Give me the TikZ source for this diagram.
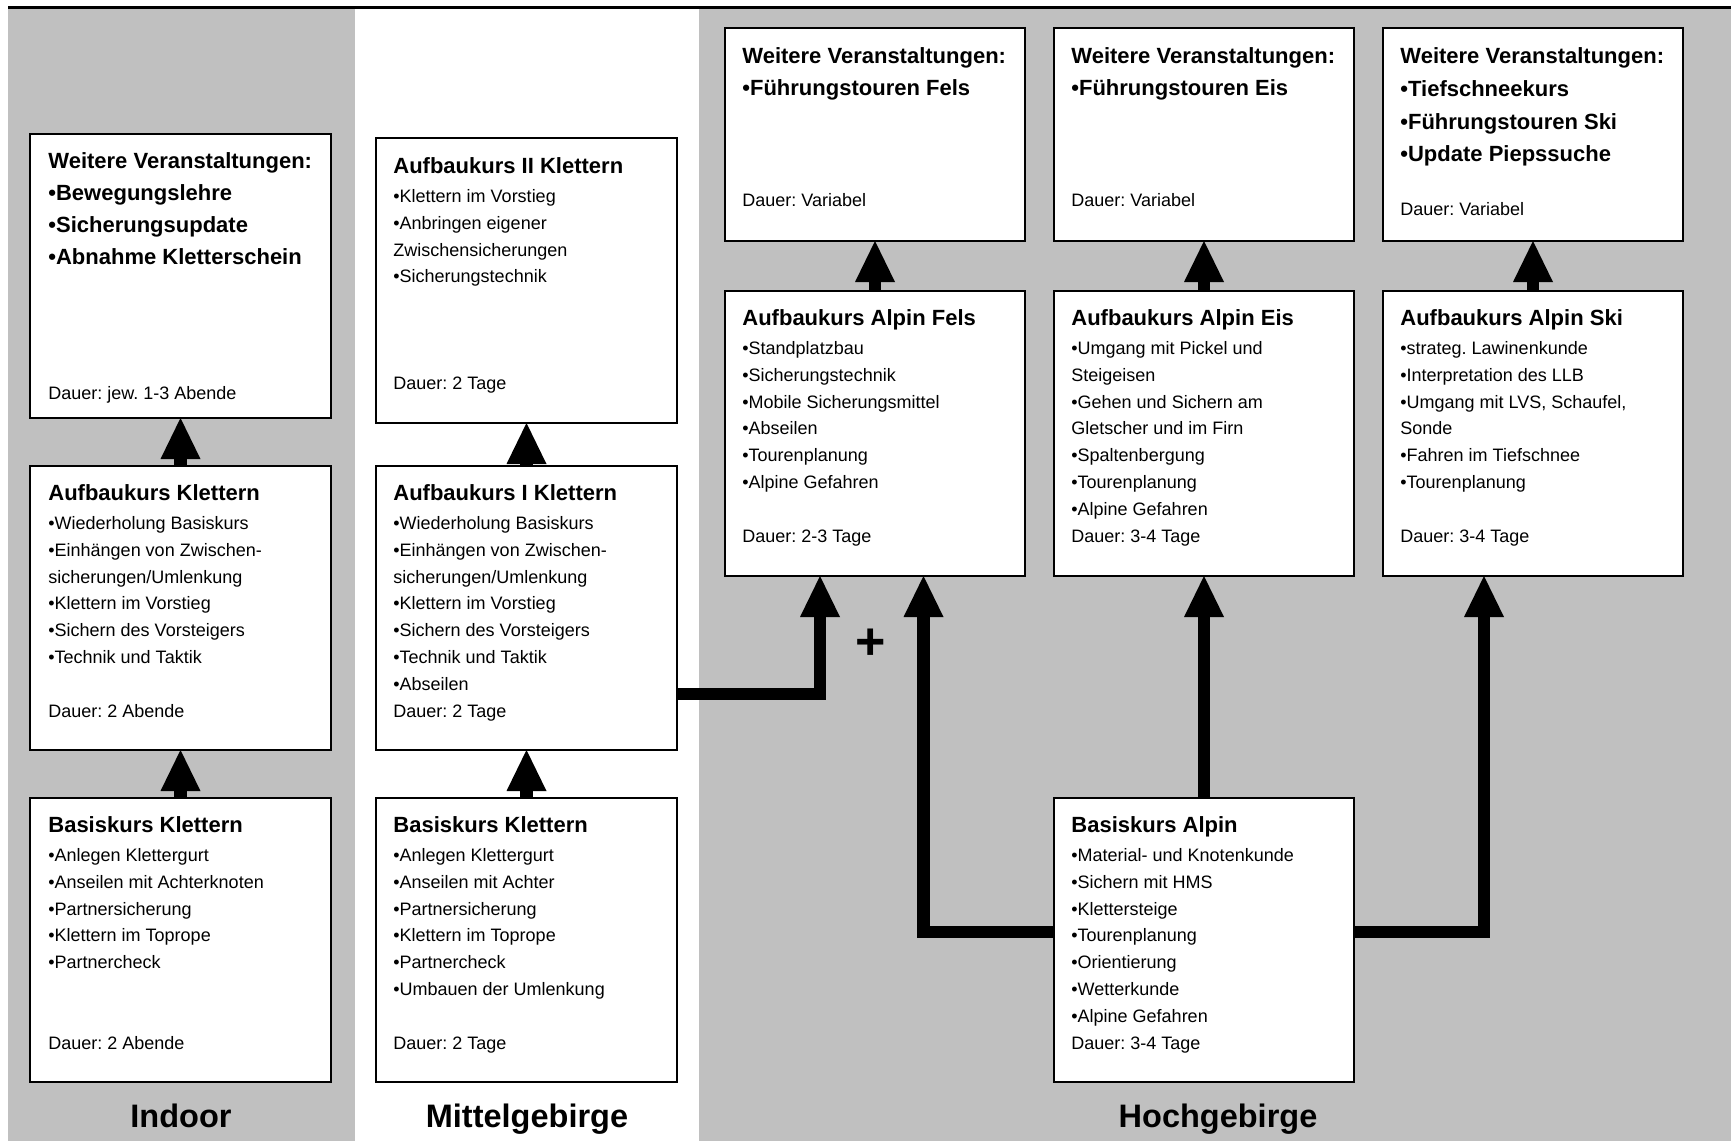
\documentclass[tikz,border=0pt]{standalone}
\usepackage{fontspec}
\setmainfont{Liberation Sans}
\usetikzlibrary{arrows.meta}
\frenchspacing
\definecolor{panelgray}{HTML}{C0C0C0}
\newcommand{\bxtitle}{\fontsize{11}{13.4}\selectfont\bfseries}
\newcommand{\bxbody}{\fontsize{9}{13.4}\selectfont}
\tikzset{
  kbox/.style={draw=black, fill=white, line width=0.9pt, inner sep=0pt, outer sep=0pt,
    anchor=north west, minimum width=150.5pt, minimum height=142pt},
  kboxh/.style={kbox, minimum width=150pt, minimum height=142.5pt},
  kboxw/.style={kbox, minimum width=150pt, minimum height=106.5pt},
  ktxt/.style={anchor=north west, inner sep=0pt, align=left, font=\bxbody},
  conn/.style={line width=6.25pt, line join=miter,
    -{Triangle[length=20.5pt,width=20pt,line width=0pt]}},
  lbl/.style={font=\fontsize{16.25}{18}\selectfont\bfseries, anchor=base, inner sep=0pt},
}
\begin{document}
\begin{tikzpicture}[x=0.5pt,y=-0.5pt]
\useasboundingbox (0,0) rectangle (1731,1141);
\fill[white] (0,0) rectangle (1731,1141);
% panels
\fill[panelgray] (8,9) rectangle (355,1141);
\fill[panelgray] (699,9) rectangle (1731,1141);
\draw[line width=1.5pt] (8,7.5) -- (1731,7.5);

% Indoor column
\node[kbox] (W1) at (30,134) {};
\node[kbox] (A1) at (30,466) {};
\node[kbox] (B1) at (30,798) {};
% Mittelgebirge column
\node[kbox, minimum height=142.5pt] (A2II) at (376,138) {};
\node[kbox] (A2I) at (376,466) {};
\node[kbox] (B2) at (376,798) {};
% Hochgebirge
\node[kboxw] (W3) at (725,28) {};
\node[kboxw] (W4) at (1054,28) {};
\node[kboxw] (W5) at (1383,28) {};
\node[kboxh] (F) at (725,291) {};
\node[kboxh] (E) at (1054,291) {};
\node[kboxh] (S) at (1383,291) {};
\node[kbox, minimum width=150pt] (BA) at (1054,798) {};

% texts
\node[ktxt] (W1t) at ([xshift=9pt]W1.north west) {%
{\bxtitle\rule{0pt}{17pt}Weitere Veranstaltungen:}\\[2.6pt]
{\bxtitle •Bewegungslehre}\\[2.6pt]
{\bxtitle •Sicherungsupdate}\\[2.6pt]
{\bxtitle •Abnahme Kletterschein}\\[54.1pt]
Dauer: jew. 1-3 Abende};

\node[ktxt] (A1t) at ([xshift=9pt]A1.north west) {%
{\bxtitle\rule{0pt}{17pt}Aufbaukurs Klettern}\\[1.1pt]
•Wiederholung Basiskurs\\
•Einhängen von Zwischen-\\
sicherungen/Umlenkung\\
•Klettern im Vorstieg\\
•Sichern des Vorsteigers\\
•Technik und Taktik\\[13.4pt]
Dauer: 2 Abende};

\node[ktxt] (B1t) at ([xshift=9pt]B1.north west) {%
{\bxtitle\rule{0pt}{17pt}Basiskurs Klettern}\\[1.1pt]
•Anlegen Klettergurt\\
•Anseilen mit Achterknoten\\
•Partnersicherung\\
•Klettern im Toprope\\
•Partnercheck\\[26.8pt]
Dauer: 2 Abende};

\node[ktxt] (A2IIt) at ([xshift=8.5pt]A2II.north west) {%
{\bxtitle\rule{0pt}{17.5pt}Aufbaukurs II Klettern}\\[1.1pt]
•Klettern im Vorstieg\\
•Anbringen eigener\\
Zwischensicherungen\\
•Sicherungstechnik\\[40.1pt]
Dauer: 2 Tage};

\node[ktxt] (A2It) at ([xshift=8.5pt]A2I.north west) {%
{\bxtitle\rule{0pt}{17pt}Aufbaukurs I Klettern}\\[1.1pt]
•Wiederholung Basiskurs\\
•Einhängen von Zwischen-\\
sicherungen/Umlenkung\\
•Klettern im Vorstieg\\
•Sichern des Vorsteigers\\
•Technik und Taktik\\
•Abseilen\\
Dauer: 2 Tage};

\node[ktxt] (B2t) at ([xshift=8.5pt]B2.north west) {%
{\bxtitle\rule{0pt}{17pt}Basiskurs Klettern}\\[1.1pt]
•Anlegen Klettergurt\\
•Anseilen mit Achter\\
•Partnersicherung\\
•Klettern im Toprope\\
•Partnercheck\\
•Umbauen der Umlenkung\\[13.4pt]
Dauer: 2 Tage};

\node[ktxt] (W3t) at ([xshift=8.5pt]W3.north west) {%
{\bxtitle\rule{0pt}{17.5pt}Weitere Veranstaltungen:}\\[2.6pt]
{\bxtitle •Führungstouren Fels}\\[42.1pt]
Dauer: Variabel};

\node[ktxt] (W4t) at ([xshift=8.5pt]W4.north west) {%
{\bxtitle\rule{0pt}{17.5pt}Weitere Veranstaltungen:}\\[2.6pt]
{\bxtitle •Führungstouren Eis}\\[42.1pt]
Dauer: Variabel};

\node[ktxt] (W5t) at ([xshift=8.5pt]W5.north west) {%
{\bxtitle\rule{0pt}{17.5pt}Weitere Veranstaltungen:}\\[3pt]
{\bxtitle •Tiefschneekurs}\\[3pt]
{\bxtitle •Führungstouren Ski}\\[3pt]
{\bxtitle •Update Piepssuche}\\[13.6pt]
Dauer: Variabel};

\node[ktxt] (Ft) at ([xshift=8.5pt]F.north west) {%
{\bxtitle\rule{0pt}{17pt}Aufbaukurs Alpin Fels}\\[1.1pt]
•Standplatzbau\\
•Sicherungstechnik\\
•Mobile Sicherungsmittel\\
•Abseilen\\
•Tourenplanung\\
•Alpine Gefahren\\[13.4pt]
Dauer: 2-3 Tage};

\node[ktxt] (Et) at ([xshift=8.5pt]E.north west) {%
{\bxtitle\rule{0pt}{17pt}Aufbaukurs Alpin Eis}\\[1.1pt]
•Umgang mit Pickel und\\
Steigeisen\\
•Gehen und Sichern am\\
Gletscher und im Firn\\
•Spaltenbergung\\
•Tourenplanung\\
•Alpine Gefahren\\
Dauer: 3-4 Tage};

\node[ktxt] (St) at ([xshift=8.5pt]S.north west) {%
{\bxtitle\rule{0pt}{17pt}Aufbaukurs Alpin Ski}\\[1.1pt]
•strateg. Lawinenkunde\\
•Interpretation des LLB\\
•Umgang mit LVS, Schaufel,\\
Sonde\\
•Fahren im Tiefschnee\\
•Tourenplanung\\[13.4pt]
Dauer: 3-4 Tage};

\node[ktxt] (BAt) at ([xshift=8.5pt]BA.north west) {%
{\bxtitle\rule{0pt}{17pt}Basiskurs Alpin}\\[1.1pt]
•Material- und Knotenkunde\\
•Sichern mit HMS\\
•Klettersteige\\
•Tourenplanung\\
•Orientierung\\
•Wetterkunde\\
•Alpine Gefahren\\
Dauer: 3-4 Tage};

% connectors
\coordinate (j1) at (820,694);
\coordinate (j2) at (923.5,932);
\coordinate (j3) at (1484,932);
\draw[conn] (B1.north) -- (A1.south);
\draw[conn] (A1.north) -- (W1.south);
\draw[conn] (B2.north) -- (A2I.south);
\draw[conn] (A2I.north) -- (A2II.south);
\draw[conn] (F.north) -- (W3.south);
\draw[conn] (E.north) -- (W4.south);
\draw[conn] (S.north) -- (W5.south);
\draw[conn] (A2I.east |- j1) -| (F.south -| j1);
\draw[conn] (BA.west |- j2) -| (F.south -| j2);
\draw[conn] (BA.north) -- (E.south);
\draw[conn] (BA.east |- j3) -| (S.south -| j3);
\node[font=\fontsize{26}{26}\selectfont\bfseries, inner sep=0pt] (plus) at (871,644) {+};

% labels
\node[lbl] (Lindoor) at (181,1127) {Indoor};
\node[lbl] (Lmittel) at (527,1127) {Mittelgebirge};
\node[lbl] (Lhoch) at (1218,1127) {Hochgebirge};
\end{tikzpicture}
\end{document}
